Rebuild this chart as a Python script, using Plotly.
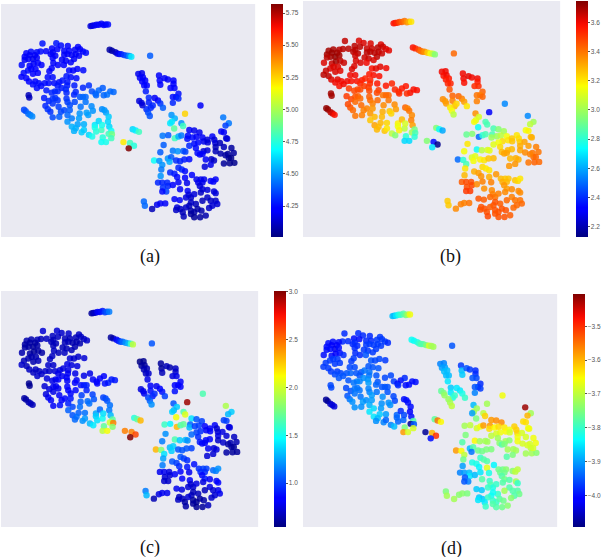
import plotly.graph_objects as go

# 2-D embedding coordinates shared by all four panels
tsne_x = [
    285, 290, 296, 303, 310, 318, 325, 331, 338,
    343, 350, 360, 366, 372, 378, 387, 396, 403, 409,
    466,
    139, 181, 195, 216, 247, 168, 184, 205, 220, 238,
    253, 262, 271, 150, 133, 122, 104, 90, 100, 85,
    116, 110, 122, 96, 85, 76, 100, 112, 125, 136,
    164, 170, 178, 170, 172, 186, 205, 215, 228, 240,
    250, 235, 225, 210, 198, 204, 118, 105, 95, 125,
    110, 82, 75, 90, 98, 117, 128, 110, 122, 135,
    146, 158, 170, 167, 160, 155, 175, 190, 200, 215,
    225, 242, 220, 232, 245, 263, 212, 185, 197, 214,
    210, 236, 151, 177, 185, 167, 212, 240, 235, 262,
    280, 289, 300, 310, 322, 345, 355, 335, 325, 302,
    97, 99, 83, 88, 96, 102, 108, 144, 158, 170,
    178, 185, 170, 148, 155, 163, 170, 188, 195, 190,
    205, 212, 215, 222, 237, 253, 262, 270, 270, 215,
    222, 228, 215, 255, 288, 292, 273, 278, 252, 250,
    265, 246, 228, 240, 235, 258, 265, 280, 290, 298,
    298, 310, 302, 318, 320, 320, 327, 332, 340, 338,
    342, 348, 340, 350, 348, 322, 318, 332, 385, 405,
    417, 401, 413, 422, 432, 430, 441, 435, 444, 442,
    451, 448, 456, 453, 462, 433, 440, 443, 462, 468,
    455, 460, 465, 474, 493, 495, 497, 510, 520, 537,
    537, 528, 540, 552, 545, 535, 535, 552, 480, 490,
    497, 505, 572, 619, 688, 705, 695, 682, 690, 697,
    700, 531, 541, 532, 527, 561, 566, 539, 585, 600,
    616, 504, 521, 541, 552, 561, 581, 579, 595, 607,
    625, 629, 655, 661, 664, 640, 612, 600, 585, 507,
    497, 535, 550, 567, 573, 641, 678, 665, 690, 605,
    610, 628, 640, 617, 625, 665, 680, 713, 720, 702,
    705, 695, 652, 635, 660, 690, 708, 722, 712, 632,
    650, 478, 494, 503, 520, 530, 525, 545, 557, 585,
    570, 500, 498, 527, 540, 548, 552, 562, 572, 572,
    593, 490, 503, 518, 520, 505, 515, 503, 535, 552,
    578, 557, 580, 607, 620, 630, 612, 625, 650, 658,
    665, 617, 625, 583, 590, 575, 600, 620, 640, 660,
    665, 640, 665, 650, 670, 655, 645, 625, 605, 590,
    585, 540, 556, 447, 450, 472, 487, 497, 512, 548,
    558, 545, 575, 565, 568, 590, 600, 610, 622, 590,
    600, 618, 635,
]
tsne_y = [
    70, 69, 68, 66, 66, 63, 67, 65, 65,
    142, 145, 149, 153, 155, 155, 158, 160, 161, 163,
    160,
    123, 122, 129, 130, 133, 138, 140, 145, 145, 142,
    140, 147, 151, 146, 147, 149, 148, 152, 158, 163,
    158, 170, 166, 170, 172, 188, 190, 184, 182, 188,
    155, 150, 160, 167, 182, 188, 157, 155, 158, 155,
    160, 170, 180, 175, 172, 188, 200, 200, 205, 212,
    215, 212, 224, 228, 238, 238, 243, 247, 258, 252,
    243, 243, 225, 198, 207, 225, 243, 240, 235, 240,
    225, 228, 205, 205, 200, 204, 222, 250, 258, 250,
    262, 250, 265, 268, 268, 272, 272, 270, 278, 257,
    250, 268, 275, 265, 258, 268, 270, 278, 280, 280,
    280, 287, 324, 328, 336, 340, 344, 288, 297, 290,
    288, 295, 305, 312, 322, 330, 347, 315, 330, 345,
    325, 290, 300, 310, 300, 285, 285, 285, 300, 340,
    325, 350, 360, 315, 313, 327, 333, 340, 335, 350,
    368, 368, 375, 380, 388, 392, 385, 400, 405, 370,
    378, 358, 390, 385, 370, 322, 325, 332, 345, 360,
    375, 388, 397, 398, 410, 408, 422, 422, 422, 425,
    433, 441, 383, 387, 391, 215, 213, 227, 225, 238,
    235, 250, 250, 268, 287, 297, 303, 310, 302, 318,
    322, 332, 343, 311, 220, 235, 248, 228, 232, 235,
    245, 258, 258, 275, 285, 285, 303, 290, 288, 296,
    305, 318, 336, 311, 347, 365, 372, 390, 392, 410,
    412, 340, 350, 360, 365, 365, 373, 381, 385, 387,
    393, 403, 401, 410, 405, 402, 403, 412, 408, 406,
    408, 420, 405, 415, 425, 415, 423, 427, 433, 431,
    453, 448, 450, 449, 451, 423, 425, 437, 437, 440,
    455, 450, 447, 460, 458, 450, 457, 440, 455, 458,
    470, 462, 474, 475, 478, 487, 486, 485, 470, 497,
    491, 478, 479, 491, 472, 468, 482, 478, 480, 474,
    475, 505, 525, 514, 518, 528, 500, 505, 510, 530,
    522, 545, 545, 545, 555, 560, 572, 572, 552, 544,
    546, 565, 570, 535, 535, 535, 545, 545, 540, 542,
    535, 555, 565, 582, 590, 590, 580, 575, 567, 572,
    577, 590, 600, 600, 610, 615, 622, 600, 610, 605,
    615, 595, 598, 602, 615, 625, 612, 608, 608, 620,
    625, 628, 620, 635, 648, 630, 635, 625, 630, 640,
    650, 650, 645,
]

# Per-point values coloured in each panel
values_a = [
    4.15, 4.15, 4.18, 4.2, 4.2, 4.2, 4.22, 4.2, 4.25,
    4.07, 4.07, 4.1, 4.15, 4.2, 4.28, 4.33, 4.38, 4.5, 4.65,
    4.4,
    4.27, 4.27, 4.25, 4.22, 4.22, 4.22, 4.22, 4.22, 4.22, 4.2,
    4.2, 4.22, 4.25, 4.22, 4.25, 4.25, 4.25, 4.22, 4.2, 4.2,
    4.2, 4.18, 4.2, 4.2, 4.2, 4.25, 4.22, 4.2, 4.22, 4.22,
    4.2, 4.2, 4.2, 4.22, 4.22, 4.22, 4.2, 4.2, 4.2, 4.2,
    4.2, 4.2, 4.2, 4.2, 4.2, 4.22, 4.22, 4.22, 4.25, 4.22,
    4.22, 4.25, 4.22, 4.22, 4.22, 4.24, 4.25, 4.25, 4.25, 4.25,
    4.25, 4.25, 4.25, 4.22, 4.22, 4.25, 4.25, 4.25, 4.27, 4.27,
    4.25, 4.25, 4.25, 4.22, 4.22, 4.25, 4.27, 4.27, 4.28, 4.28,
    4.3, 4.28, 4.28, 4.3, 4.3, 4.3, 4.3, 4.3, 4.3, 4.3,
    4.32, 4.38, 4.4, 4.42, 4.4, 4.42, 4.42, 4.44, 4.42, 4.42,
    4.1, 4.1, 4.35, 4.38, 4.42, 4.45, 4.48, 4.28, 4.3, 4.32,
    4.32, 4.32, 4.32, 4.3, 4.32, 4.32, 4.36, 4.34, 4.36, 4.4,
    4.36, 4.32, 4.34, 4.36, 4.36, 4.38, 4.42, 4.42, 4.44, 4.42,
    4.4, 4.46, 4.5, 4.44, 4.48, 4.5, 4.52, 4.52, 4.5, 4.52,
    4.55, 4.52, 4.55, 4.55, 4.55, 4.6, 4.6, 4.62, 4.72, 4.65,
    4.72, 4.62, 4.75, 4.8, 4.72, 4.48, 4.5, 4.52, 4.6, 4.62,
    4.62, 4.7, 4.8, 4.9, 4.8, 4.75, 4.7, 4.72, 5.2, 4.8,
    4.75, 5.82, 4.62, 4.66, 4.8, 4.18, 4.18, 4.2, 4.2, 4.22,
    4.22, 4.24, 4.24, 4.28, 4.3, 4.15, 4.15, 4.15, 4.28, 4.3,
    4.3, 4.36, 4.38, 4.3, 4.2, 4.22, 4.22, 4.2, 4.2, 4.22,
    4.22, 4.22, 4.24, 4.26, 4.28, 4.26, 4.3, 4.3, 4.2, 4.22,
    4.32, 4.4, 5.25, 4.2, 4.45, 4.45, 4.35, 4.2, 4.2, 4.15,
    4.15, 4.5, 4.55, 4.65, 4.65, 4.5, 4.8, 4.85, 4.2, 4.18,
    4.18, 4.45, 4.4, 4.8, 4.55, 4.45, 4.25, 4.25, 4.25, 4.2,
    4.2, 4.18, 4.2, 4.15, 4.15, 4.15, 4.25, 4.25, 4.3, 4.4,
    4.4, 4.45, 4.5, 4.4, 4.35, 4.15, 4.1, 4.1, 4.1, 4.25,
    4.25, 4.15, 4.15, 4.22, 4.2, 4.1, 4.08, 4.06, 4.06, 4.05,
    4.04, 4.06, 4.12, 4.2, 4.12, 4.05, 4.03, 4.03, 4.03, 4.15,
    4.18, 4.7, 4.5, 4.5, 4.5, 4.4, 4.55, 4.32, 4.3, 4.25,
    4.28, 4.45, 4.5, 4.3, 4.28, 4.25, 4.3, 4.3, 4.25, 4.22,
    4.22, 4.3, 4.3, 4.3, 4.3, 4.32, 4.35, 4.25, 4.22, 4.2,
    4.18, 4.2, 4.2, 4.18, 4.18, 4.18, 4.18, 4.18, 4.2, 4.22,
    4.2, 4.15, 4.15, 4.15, 4.12, 4.15, 4.15, 4.12, 4.15, 4.15,
    4.15, 4.12, 4.12, 4.12, 4.14, 4.14, 4.12, 4.1, 4.1, 4.12,
    4.1, 4.2, 4.2, 4.42, 4.42, 4.1, 4.18, 4.2, 4.2, 4.15,
    4.12, 4.12, 4.12, 4.1, 4.1, 4.08, 4.07, 4.07, 4.08, 4.06,
    4.05, 4.06, 4.08,
]
values_b = [
    3.58, 3.56, 3.53, 3.48, 3.44, 3.4, 3.35, 3.3, 3.2,
    3.58, 3.54, 3.48, 3.42, 3.4, 3.35, 3.25, 3.15, 3.05, 2.95,
    3.42,
    3.66, 3.63, 3.63, 3.63, 3.63, 3.67, 3.67, 3.65, 3.65, 3.67,
    3.65, 3.63, 3.62, 3.67, 3.67, 3.67, 3.69, 3.7, 3.71, 3.7,
    3.7, 3.72, 3.7, 3.7, 3.67, 3.63, 3.65, 3.7, 3.67, 3.65,
    3.67, 3.67, 3.67, 3.65, 3.63, 3.63, 3.67, 3.67, 3.67, 3.67,
    3.65, 3.67, 3.63, 3.65, 3.65, 3.6, 3.63, 3.63, 3.63, 3.62,
    3.63, 3.65, 3.67, 3.67, 3.63, 3.62, 3.6, 3.6, 3.58, 3.6,
    3.6, 3.58, 3.6, 3.63, 3.63, 3.6, 3.58, 3.56, 3.54, 3.54,
    3.58, 3.58, 3.58, 3.62, 3.62, 3.6, 3.56, 3.54, 3.5, 3.53,
    3.5, 3.56, 3.5, 3.48, 3.48, 3.48, 3.48, 3.5, 3.48, 3.56,
    3.54, 3.54, 3.53, 3.56, 3.56, 3.58, 3.58, 3.58, 3.53, 3.53,
    3.7, 3.7, 3.72, 3.72, 3.68, 3.64, 3.58, 3.5, 3.48, 3.46,
    3.44, 3.42, 3.42, 3.48, 3.46, 3.42, 3.4, 3.42, 3.38, 3.38,
    3.38, 3.44, 3.42, 3.38, 3.42, 3.4, 3.42, 3.42, 3.4, 3.34,
    3.34, 3.28, 3.26, 3.36, 3.36, 3.33, 3.26, 3.23, 3.3, 3.28,
    3.23, 3.28, 3.32, 3.28, 3.28, 3.26, 3.2, 3.05, 2.95, 3.18,
    3.14, 3.28, 3.18, 3.05, 3.1, 3.43, 3.38, 3.4, 3.36, 3.38,
    3.33, 2.92, 3.0, 2.85, 2.8, 2.8, 2.68, 2.68, 2.95, 2.35,
    2.15, 2.7, 2.95, 2.75, 2.6, 3.6, 3.6, 3.58, 3.6, 3.56,
    3.56, 3.54, 3.54, 3.46, 3.43, 3.36, 3.34, 3.33, 3.38, 3.28,
    3.2, 3.15, 3.05, 3.23, 3.6, 3.6, 3.58, 3.62, 3.6, 3.6,
    3.56, 3.53, 3.53, 3.43, 3.38, 3.4, 3.38, 3.43, 3.43, 3.38,
    3.33, 3.2, 2.3, 2.55, 2.55, 3.0, 3.05, 3.15, 3.18, 3.28,
    3.3, 3.35, 3.1, 3.12, 3.15, 2.85, 2.85, 2.75, 2.85, 2.95,
    3.0, 2.9, 2.95, 2.5, 2.8, 2.85, 2.85, 3.0, 3.0, 3.05,
    3.15, 3.2, 3.2, 3.22, 3.25, 3.25, 3.22, 3.15, 3.12, 3.2,
    3.15, 2.75, 3.05, 3.1, 3.12, 3.26, 3.32, 3.3, 3.33, 3.22,
    3.28, 3.28, 3.28, 3.32, 3.32, 3.32, 3.36, 3.38, 3.4, 3.4,
    3.42, 3.38, 3.3, 3.28, 3.3, 3.4, 3.43, 3.42, 3.42, 3.34,
    3.34, 2.5, 2.8, 2.85, 3.1, 3.12, 3.15, 3.18, 3.2, 3.28,
    3.26, 3.2, 3.28, 3.3, 3.33, 3.35, 3.22, 3.2, 3.2, 3.3,
    3.34, 3.44, 3.47, 3.47, 3.48, 3.47, 3.5, 3.5, 3.36, 3.38,
    3.38, 3.35, 3.36, 3.28, 3.26, 3.26, 3.3, 3.28, 3.26, 3.23,
    3.2, 3.34, 3.33, 3.38, 3.4, 3.42, 3.38, 3.36, 3.36, 3.36,
    3.36, 3.38, 3.4, 3.4, 3.42, 3.42, 3.42, 3.42, 3.44, 3.46,
    3.46, 3.46, 3.44, 3.25, 3.25, 3.36, 3.38, 3.38, 3.4, 3.46,
    3.46, 3.46, 3.44, 3.46, 3.48, 3.46, 3.46, 3.46, 3.46, 3.46,
    3.46, 3.46, 3.44,
]
values_c = [
    0.6, 0.65, 0.7, 0.8, 0.85, 0.9, 1.0, 1.05, 1.15,
    0.6, 0.65, 0.8, 0.9, 1.0, 1.1, 1.2, 1.3, 1.6, 1.95,
    1.05,
    0.72, 0.72, 0.7, 0.7, 0.68, 0.68, 0.68, 0.66, 0.66, 0.66,
    0.68, 0.68, 0.7, 0.68, 0.66, 0.66, 0.64, 0.64, 0.62, 0.62,
    0.62, 0.6, 0.62, 0.62, 0.62, 0.64, 0.62, 0.6, 0.62, 0.62,
    0.66, 0.66, 0.66, 0.66, 0.68, 0.66, 0.66, 0.66, 0.64, 0.64,
    0.64, 0.64, 0.66, 0.66, 0.66, 0.68, 0.64, 0.64, 0.64, 0.66,
    0.64, 0.66, 0.7, 0.66, 0.68, 0.68, 0.68, 0.68, 0.7, 0.7,
    0.7, 0.7, 0.7, 0.68, 0.68, 0.7, 0.72, 0.74, 0.74, 0.76,
    0.74, 0.74, 0.72, 0.7, 0.7, 0.72, 0.76, 0.76, 0.78, 0.78,
    0.8, 0.76, 0.74, 0.78, 0.8, 0.76, 0.8, 0.8, 0.82, 0.76,
    0.76, 0.8, 0.84, 0.84, 0.84, 0.9, 0.9, 0.92, 0.88, 0.84,
    0.58, 0.58, 0.62, 0.62, 0.64, 0.66, 0.66, 0.72, 0.74, 0.78,
    0.78, 0.78, 0.76, 0.74, 0.78, 0.8, 0.8, 0.8, 0.84, 0.88,
    0.86, 0.82, 0.84, 0.86, 0.86, 0.88, 0.9, 0.92, 0.92, 0.92,
    0.9, 1.02, 1.08, 1.0, 1.0, 1.05, 1.1, 1.12, 1.08, 1.12,
    1.12, 1.08, 1.05, 1.12, 1.1, 1.2, 1.22, 1.3, 1.42, 1.25,
    1.35, 1.1, 1.4, 1.5, 1.4, 1.0, 1.02, 1.05, 1.12, 1.15,
    1.3, 1.7, 2.0, 2.45, 1.8, 1.7, 1.95, 2.1, 2.45, 2.45,
    2.6, 3.0, 1.55, 1.7, 2.3, 0.55, 0.58, 0.6, 0.6, 0.65,
    0.65, 0.68, 0.7, 0.76, 0.84, 0.74, 0.76, 0.78, 0.88, 0.9,
    1.0, 1.08, 1.2, 0.95, 0.6, 0.6, 0.66, 0.66, 0.64, 0.68,
    0.7, 0.74, 0.76, 0.82, 0.86, 0.82, 0.88, 0.84, 0.78, 0.82,
    0.88, 1.0, 2.95, 1.65, 1.9, 1.35, 1.3, 1.0, 1.0, 0.75,
    0.75, 1.05, 1.35, 1.3, 1.35, 1.65, 2.05, 2.1, 1.4, 1.05,
    1.0, 1.6, 1.45, 2.3, 1.65, 1.7, 1.1, 1.3, 1.0, 1.0,
    0.85, 0.8, 0.8, 0.72, 0.72, 0.8, 0.95, 1.0, 1.1, 1.2,
    1.15, 1.65, 1.35, 1.3, 1.2, 0.85, 0.75, 0.75, 0.72, 0.95,
    0.9, 0.82, 0.85, 0.85, 0.8, 0.7, 0.7, 0.68, 0.65, 0.65,
    0.6, 0.62, 0.72, 0.8, 0.74, 0.62, 0.6, 0.6, 0.6, 0.72,
    0.72, 2.3, 1.8, 1.4, 1.3, 1.35, 1.35, 1.05, 1.05, 1.0,
    1.05, 1.25, 1.15, 1.05, 1.0, 0.95, 1.05, 1.0, 0.95, 0.9,
    0.88, 0.78, 0.78, 0.75, 0.72, 0.72, 0.7, 0.7, 0.8, 0.85,
    0.78, 0.85, 0.8, 0.95, 1.0, 1.0, 0.95, 0.95, 1.1, 1.15,
    1.2, 0.85, 0.9, 0.7, 0.7, 0.72, 0.75, 0.75, 0.8, 0.85,
    0.85, 0.75, 0.78, 0.72, 0.78, 0.72, 0.7, 0.66, 0.66, 0.66,
    0.66, 0.78, 0.75, 1.15, 1.3, 0.65, 0.75, 0.78, 0.78, 0.68,
    0.68, 0.68, 0.72, 0.62, 0.62, 0.6, 0.58, 0.6, 0.62, 0.6,
    0.58, 0.6, 0.66,
]
values_d = [
    -3.88, -3.88, -3.85, -3.82, -3.8, -3.78, -3.76, -3.72, -3.66,
    -3.83, -3.83, -3.82, -3.8, -3.78, -3.78, -3.75, -3.68, -3.72, -3.72,
    -3.95,
    -3.98, -3.98, -3.98, -3.98, -3.97, -4.0, -4.0, -3.98, -3.98, -3.97,
    -3.97, -3.97, -3.98, -3.98, -3.98, -4.0, -4.0, -4.0, -4.02, -4.0,
    -4.02, -4.03, -4.0, -4.0, -4.0, -4.0, -4.0, -4.02, -4.0, -3.98,
    -3.98, -3.98, -3.98, -3.98, -3.98, -3.98, -3.97, -3.97, -3.97, -3.97,
    -3.97, -3.97, -3.97, -3.97, -3.97, -3.95, -3.97, -3.97, -3.97, -3.97,
    -3.97, -3.97, -3.97, -3.97, -3.97, -3.97, -3.96, -3.96, -3.95, -3.95,
    -3.95, -3.94, -3.96, -3.97, -3.97, -3.96, -3.95, -3.95, -3.93, -3.93,
    -3.95, -3.95, -3.95, -3.96, -3.96, -3.97, -3.95, -3.95, -3.91, -3.93,
    -3.91, -3.95, -3.95, -3.92, -3.92, -3.93, -3.9, -3.95, -3.94, -3.96,
    -3.96, -3.97, -4.0, -4.0, -3.98, -4.0, -4.0, -4.0, -4.0, -3.98,
    -3.96, -3.96, -4.08, -4.08, -4.06, -4.04, -4.04, -3.96, -3.95, -3.93,
    -3.93, -3.93, -3.93, -3.95, -3.93, -3.91, -3.91, -3.93, -3.9, -3.91,
    -3.91, -3.92, -3.92, -3.9, -3.93, -3.95, -3.95, -3.95, -3.95, -3.89,
    -3.9, -3.86, -3.85, -3.91, -3.96, -3.96, -3.91, -3.91, -3.91, -3.9,
    -3.9, -3.87, -3.85, -3.88, -3.91, -3.92, -3.94, -3.92, -3.88, -3.94,
    -3.94, -3.98, -3.94, -3.94, -3.96, -4.0, -4.0, -4.0, -4.0, -4.02,
    -4.0, -3.78, -4.08, -3.95, -3.68, -3.75, -3.58, -3.68, -4.08, -3.6,
    -3.5, -4.0, -3.77, -3.55, -3.65, -3.92, -3.92, -3.9, -3.9, -3.88,
    -3.88, -3.88, -3.88, -3.85, -3.87, -3.77, -3.75, -3.73, -3.85, -3.82,
    -3.73, -3.72, -3.7, -3.8, -3.97, -3.88, -3.87, -3.95, -3.97, -3.98,
    -3.98, -3.95, -3.96, -3.98, -3.97, -3.95, -3.92, -3.97, -3.85, -3.85,
    -3.82, -3.8, -3.72, -3.66, -3.42, -3.72, -3.6, -3.63, -3.63, -3.66,
    -3.66, -3.88, -3.72, -3.72, -3.9, -3.7, -3.62, -3.75, -3.58, -3.57,
    -3.57, -3.72, -3.7, -3.68, -3.66, -3.58, -3.58, -3.63, -3.65, -3.63,
    -3.64, -3.65, -3.62, -3.62, -3.62, -3.66, -3.66, -3.68, -3.7, -3.75,
    -3.78, -3.65, -3.72, -3.72, -3.72, -3.68, -3.68, -3.66, -3.68, -3.72,
    -3.74, -3.72, -3.74, -3.78, -3.75, -3.66, -3.68, -3.66, -3.66, -3.68,
    -3.7, -3.68, -3.72, -3.72, -3.72, -3.72, -3.72, -3.74, -3.68, -3.78,
    -3.75, -3.58, -3.65, -3.7, -3.88, -3.78, -3.93, -3.76, -3.76, -3.75,
    -3.75, -3.76, -3.9, -3.82, -3.82, -3.84, -3.8, -3.78, -3.78, -3.67,
    -3.84, -3.92, -3.9, -3.88, -3.85, -3.95, -3.92, -3.95, -3.88, -3.85,
    -3.82, -3.78, -3.8, -3.76, -3.76, -3.74, -3.76, -3.76, -3.74, -3.7,
    -3.7, -3.78, -3.76, -3.78, -3.82, -3.8, -3.8, -3.78, -3.78, -3.72,
    -3.8, -3.78, -3.78, -3.78, -3.76, -3.78, -3.74, -3.72, -3.8, -3.83,
    -3.83, -3.87, -3.87, -3.75, -3.72, -3.72, -3.74, -3.74, -3.75, -3.87,
    -3.87, -3.85, -3.8, -3.85, -3.8, -3.8, -3.8, -3.78, -3.76, -3.78,
    -3.78, -3.76, -3.74,
]

panel_labels = ["(a)", "(b)", "(c)", "(d)"]
color_limits = [(4.01, 5.82), (2.13, 3.746), (0.54, 3.01), (-4.094, -3.404)]
colorbar_ticks = [
    [4.25, 4.5, 4.75, 5.0, 5.25, 5.5, 5.75],
    [2.2, 2.4, 2.6, 2.8, 3.0, 3.2, 3.4, 3.6],
    [1.0, 1.5, 2.0, 2.5, 3.0],
    [-4.0, -3.9, -3.8, -3.7, -3.6, -3.5],
]
tick_formats = [".2f", ".1f", ".1f", ".1f"]

WIDTH, HEIGHT = 602, 557

# Pixel boxes: plot area (left, right, top, bottom), colour bar left edge, label centre
plot_boxes = [(1, 256, 4, 237), (304, 562, 1, 237), (1, 259, 291, 527), (304, 559, 294, 527)]
bar_lefts = [272, 578, 275, 575]
label_centres = [(150, 256), (452, 256), (150, 547), (453, 548)]

JET = [
    [0.0, "#00007f"], [0.11, "#0000ff"], [0.125, "#0000ff"], [0.34, "#00dbff"],
    [0.375, "#05ffff"], [0.5, "#7dff7a"], [0.64, "#fbff00"], [0.66, "#ffea00"],
    [0.89, "#ff1300"], [0.91, "#f10800"], [1.0, "#7f0000"],
]

fig = go.Figure()
series = [values_a, values_b, values_c, values_d]
layout_axes = {}
for i, values in enumerate(series):
    assert len(values) == len(tsne_x) == len(tsne_y)
    left, right, top, bottom = plot_boxes[i]
    suffix = "" if i == 0 else str(i + 1)
    cmin, cmax = color_limits[i]
    fig.add_trace(go.Scatter(
        x=tsne_x, y=tsne_y, mode="markers",
        xaxis="x" + suffix, yaxis="y" + suffix,
        showlegend=False, hoverinfo="skip",
        marker=dict(
            size=6.4, color=values, colorscale=JET, cmin=cmin, cmax=cmax,
            opacity=0.85, line=dict(width=0),
            colorbar=dict(
                x=bar_lefts[i] / WIDTH, xanchor="left",
                y=1 - bottom / HEIGHT, yanchor="bottom",
                len=(bottom - top) / HEIGHT, lenmode="fraction",
                thickness=12, thicknessmode="pixels",
                xpad=0, ypad=0, outlinewidth=0,
                tickmode="array", tickvals=colorbar_ticks[i],
                tickformat=tick_formats[i],
                ticks="outside", ticklen=2, tickwidth=0.6, tickcolor="#555555",
                tickfont=dict(family="Liberation Sans", size=6.5, color="#555555"),
            ),
        ),
    ))
    axis_style = dict(visible=False, fixedrange=True)
    layout_axes["xaxis" + suffix] = dict(
        domain=[left / WIDTH, right / WIDTH], range=[13, 785],
        anchor="y" + suffix, **axis_style)
    layout_axes["yaxis" + suffix] = dict(
        domain=[1 - bottom / HEIGHT, 1 - top / HEIGHT], range=[710, 3],
        anchor="x" + suffix, **axis_style)

# Grey panel backgrounds sit below the traces
shapes = [
    dict(type="rect", xref="paper", yref="paper", layer="below", line_width=0,
         fillcolor="#eaeaf2",
         x0=b[0] / WIDTH, x1=b[1] / WIDTH, y0=1 - b[3] / HEIGHT, y1=1 - b[2] / HEIGHT)
    for b in plot_boxes
]
annotations = [
    dict(text=label, xref="paper", yref="paper", showarrow=False,
         x=c[0] / WIDTH, y=1 - c[1] / HEIGHT, xanchor="center", yanchor="middle",
         font=dict(family="Liberation Serif", size=18, color="#111111"))
    for label, c in zip(panel_labels, label_centres)
]

fig.update_layout(
    width=WIDTH, height=HEIGHT, autosize=False,
    margin=dict(l=0, r=0, t=0, b=0),
    paper_bgcolor="white", plot_bgcolor="rgba(0,0,0,0)",
    shapes=shapes, annotations=annotations, **layout_axes,
)
fig.write_html("out.html", config={"displayModeBar": False, "responsive": False})
